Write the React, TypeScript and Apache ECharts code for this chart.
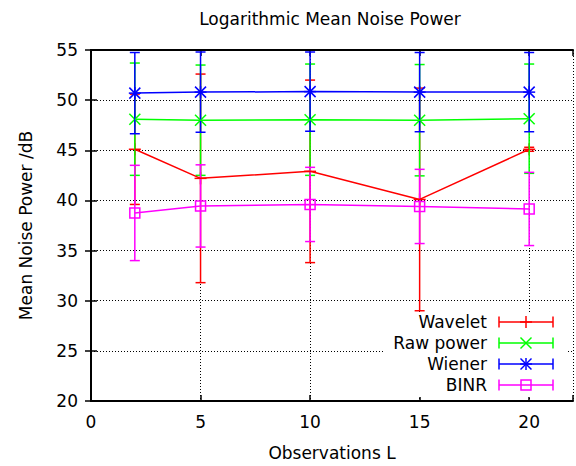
import React, { useEffect, useRef } from "react";
import * as echarts from "echarts";

const titleText = "Logarithmic Mean Noise Power";
const xName = "Observations L";
const yName = "Mean Noise Power /dB";
const xs = [2, 5, 10, 15, 20];
const seriesNames = ["Wavelet", "Raw power", "Wiener", "BINR"];
const waveletMean = [45.1, 42.2, 42.9, 40.1, 45.1];
const waveletErr = [5.5, 10.4, 9.1, 11.1, 0.2];
const rawMean = [48.1, 48.0, 48.05, 48.0, 48.15];
const rawErr = [5.6, 5.5, 5.55, 5.55, 5.45];
const wienerMean = [50.7, 50.8, 50.85, 50.8, 50.8];
const wienerErr = [4.05, 4.0, 3.95, 3.95, 3.95];
const binrMean = [38.75, 39.45, 39.6, 39.4, 39.15];
const binrErr = [4.75, 4.1, 3.7, 3.7, 3.65];

const colors = ["#ff0000", "#00ff00", "#0000ff", "#ff00ff"];
const markers = ["plus", "cross", "star", "square"];
const FONT = "DejaVu Sans";
const FS = 17;

function markerShapes(kind: string, cx: number, cy: number, color: string, lw: number) {
  const st = { stroke: color, lineWidth: lw, fill: "none" };
  const h = 6;
  const d = 5.5;
  const out: any[] = [];
  if (kind === "plus" || kind === "star") {
    out.push({ type: "line", shape: { x1: cx - h, y1: cy, x2: cx + h, y2: cy }, style: st });
    out.push({ type: "line", shape: { x1: cx, y1: cy - h, x2: cx, y2: cy + h }, style: st });
  }
  if (kind === "cross" || kind === "star") {
    out.push({ type: "line", shape: { x1: cx - d, y1: cy - d, x2: cx + d, y2: cy + d }, style: st });
    out.push({ type: "line", shape: { x1: cx - d, y1: cy + d, x2: cx + d, y2: cy - d }, style: st });
  }
  if (kind === "square") {
    out.push({ type: "rect", shape: { x: cx - 5, y: cy - 5, width: 10, height: 10 }, style: st });
  }
  return out;
}

export default function App() {
  const ref = useRef<HTMLDivElement>(null);
  useEffect(() => {
    if (!ref.current) return;
    const chart = echarts.init(ref.current, null, { renderer: "svg" });
    const means = [waveletMean, rawMean, wienerMean, binrMean];
    const errs = [waveletErr, rawErr, wienerErr, binrErr];
    const series: any[] = [];
    means.forEach((m, si) => {
      const color = colors[si];
      series.push({
        type: "line",
        name: seriesNames[si],
        data: xs.map((x, i) => [x, m[i]]),
        showSymbol: false,
        lineStyle: { color, width: 1.5 },
        itemStyle: { color },
        xAxisIndex: 0,
        yAxisIndex: 0,
        silent: true,
      });
      series.push({
        type: "custom",
        name: seriesNames[si] + " err",
        data: xs.map((x, i) => [x, m[i], errs[si][i]]),
        xAxisIndex: 0,
        yAxisIndex: 0,
        renderItem: (params: any, api: any) => {
          const x = api.value(0);
          const mv = api.value(1);
          const e = api.value(2);
          const top = api.coord([x, mv + e]);
          const bot = api.coord([x, mv - e]);
          const c = api.coord([x, mv]);
          const st = { stroke: color, lineWidth: 1.5, fill: "none" };
          const w = 5;
          const children: any[] = [
            { type: "line", shape: { x1: top[0], y1: top[1], x2: bot[0], y2: bot[1] }, style: st },
            { type: "line", shape: { x1: top[0] - w, y1: top[1], x2: top[0] + w, y2: top[1] }, style: st },
            { type: "line", shape: { x1: bot[0] - w, y1: bot[1], x2: bot[0] + w, y2: bot[1] }, style: st },
            ...markerShapes(markers[si], c[0], c[1], color, 1.5),
          ];
          return { type: "group", children };
        },
      });
    });

    const legendEls: any[] = [
      { type: "rect", shape: { x: 383, y: 313, width: 185, height: 84 }, style: { fill: "#fff" }, z: 50 },
    ];
    seriesNames.forEach((n, i) => {
      const y = 322 + i * 21;
      const color = colors[i];
      const st = { stroke: color, lineWidth: 1.5, fill: "none" };
      legendEls.push({
        type: "text",
        x: 487,
        y,
        style: { text: n, fill: "#000", font: `${FS}px "${FONT}"`, align: "right", verticalAlign: "middle" },
        z: 51,
      });
      legendEls.push({ type: "line", shape: { x1: 499, y1: y, x2: 553, y2: y }, style: st, z: 51 });
      legendEls.push({ type: "line", shape: { x1: 499, y1: y - 5.5, x2: 499, y2: y + 5.5 }, style: st, z: 51 });
      legendEls.push({ type: "line", shape: { x1: 553, y1: y - 5.5, x2: 553, y2: y + 5.5 }, style: st, z: 51 });
      markerShapes(markers[i], 526, y, color, 1.5).forEach((s) => legendEls.push({ ...s, z: 51 }));
    });
    legendEls.push({
      type: "text",
      x: 330,
      y: 19,
      style: { text: titleText, fill: "#000", font: `${FS}px "${FONT}"`, align: "center", verticalAlign: "middle" },
      z: 51,
    });

    const axisCommon = {
      type: "value" as const,
      axisLine: { show: true, lineStyle: { color: "#000", width: 2 } },
      axisTick: { show: true, inside: true, length: 6, lineStyle: { color: "#000", width: 1.5 } },
    };

    chart.setOption({
      animation: false,
      backgroundColor: "#fff",
      textStyle: { fontFamily: FONT },
      grid: { left: 91, right: 1, top: 50, bottom: 63, containLabel: false },
      xAxis: [
        {
          ...axisCommon,
          position: "bottom",
          min: 0,
          max: 22,
          interval: 5,
          name: xName,
          nameLocation: "middle",
          nameGap: 43,
          nameTextStyle: { fontSize: FS, color: "#000", fontFamily: FONT },
          axisLabel: {
            fontSize: FS,
            color: "#000",
            fontFamily: FONT,
            margin: 12,
            formatter: (v: number) => (v % 5 === 0 ? String(v) : ""),
          },
          splitLine: { show: true, lineStyle: { color: "#000", width: 1, type: [1, 2] } },
        },
        {
          ...axisCommon,
          position: "top",
          min: 0,
          max: 22,
          interval: 5,
          axisLabel: { show: false },
          splitLine: { show: false },
        },
      ],
      yAxis: [
        {
          ...axisCommon,
          position: "left",
          min: 20,
          max: 55,
          interval: 5,
          name: yName,
          nameLocation: "middle",
          nameGap: 57,
          nameTextStyle: { fontSize: FS, color: "#000", fontFamily: FONT },
          axisLabel: { fontSize: FS, color: "#000", fontFamily: FONT, margin: 13 },
          splitLine: { show: true, lineStyle: { color: "#000", width: 1, type: [1, 2] } },
        },
        {
          ...axisCommon,
          position: "right",
          min: 20,
          max: 55,
          interval: 5,
          axisLabel: { show: false },
          splitLine: { show: false },
        },
      ],
      graphic: legendEls,
      series,
    });
    return () => chart.dispose();
  }, []);
  return <div ref={ref} style={{ position: "fixed", left: 0, top: 0, width: 576, height: 466 }} />;
}
